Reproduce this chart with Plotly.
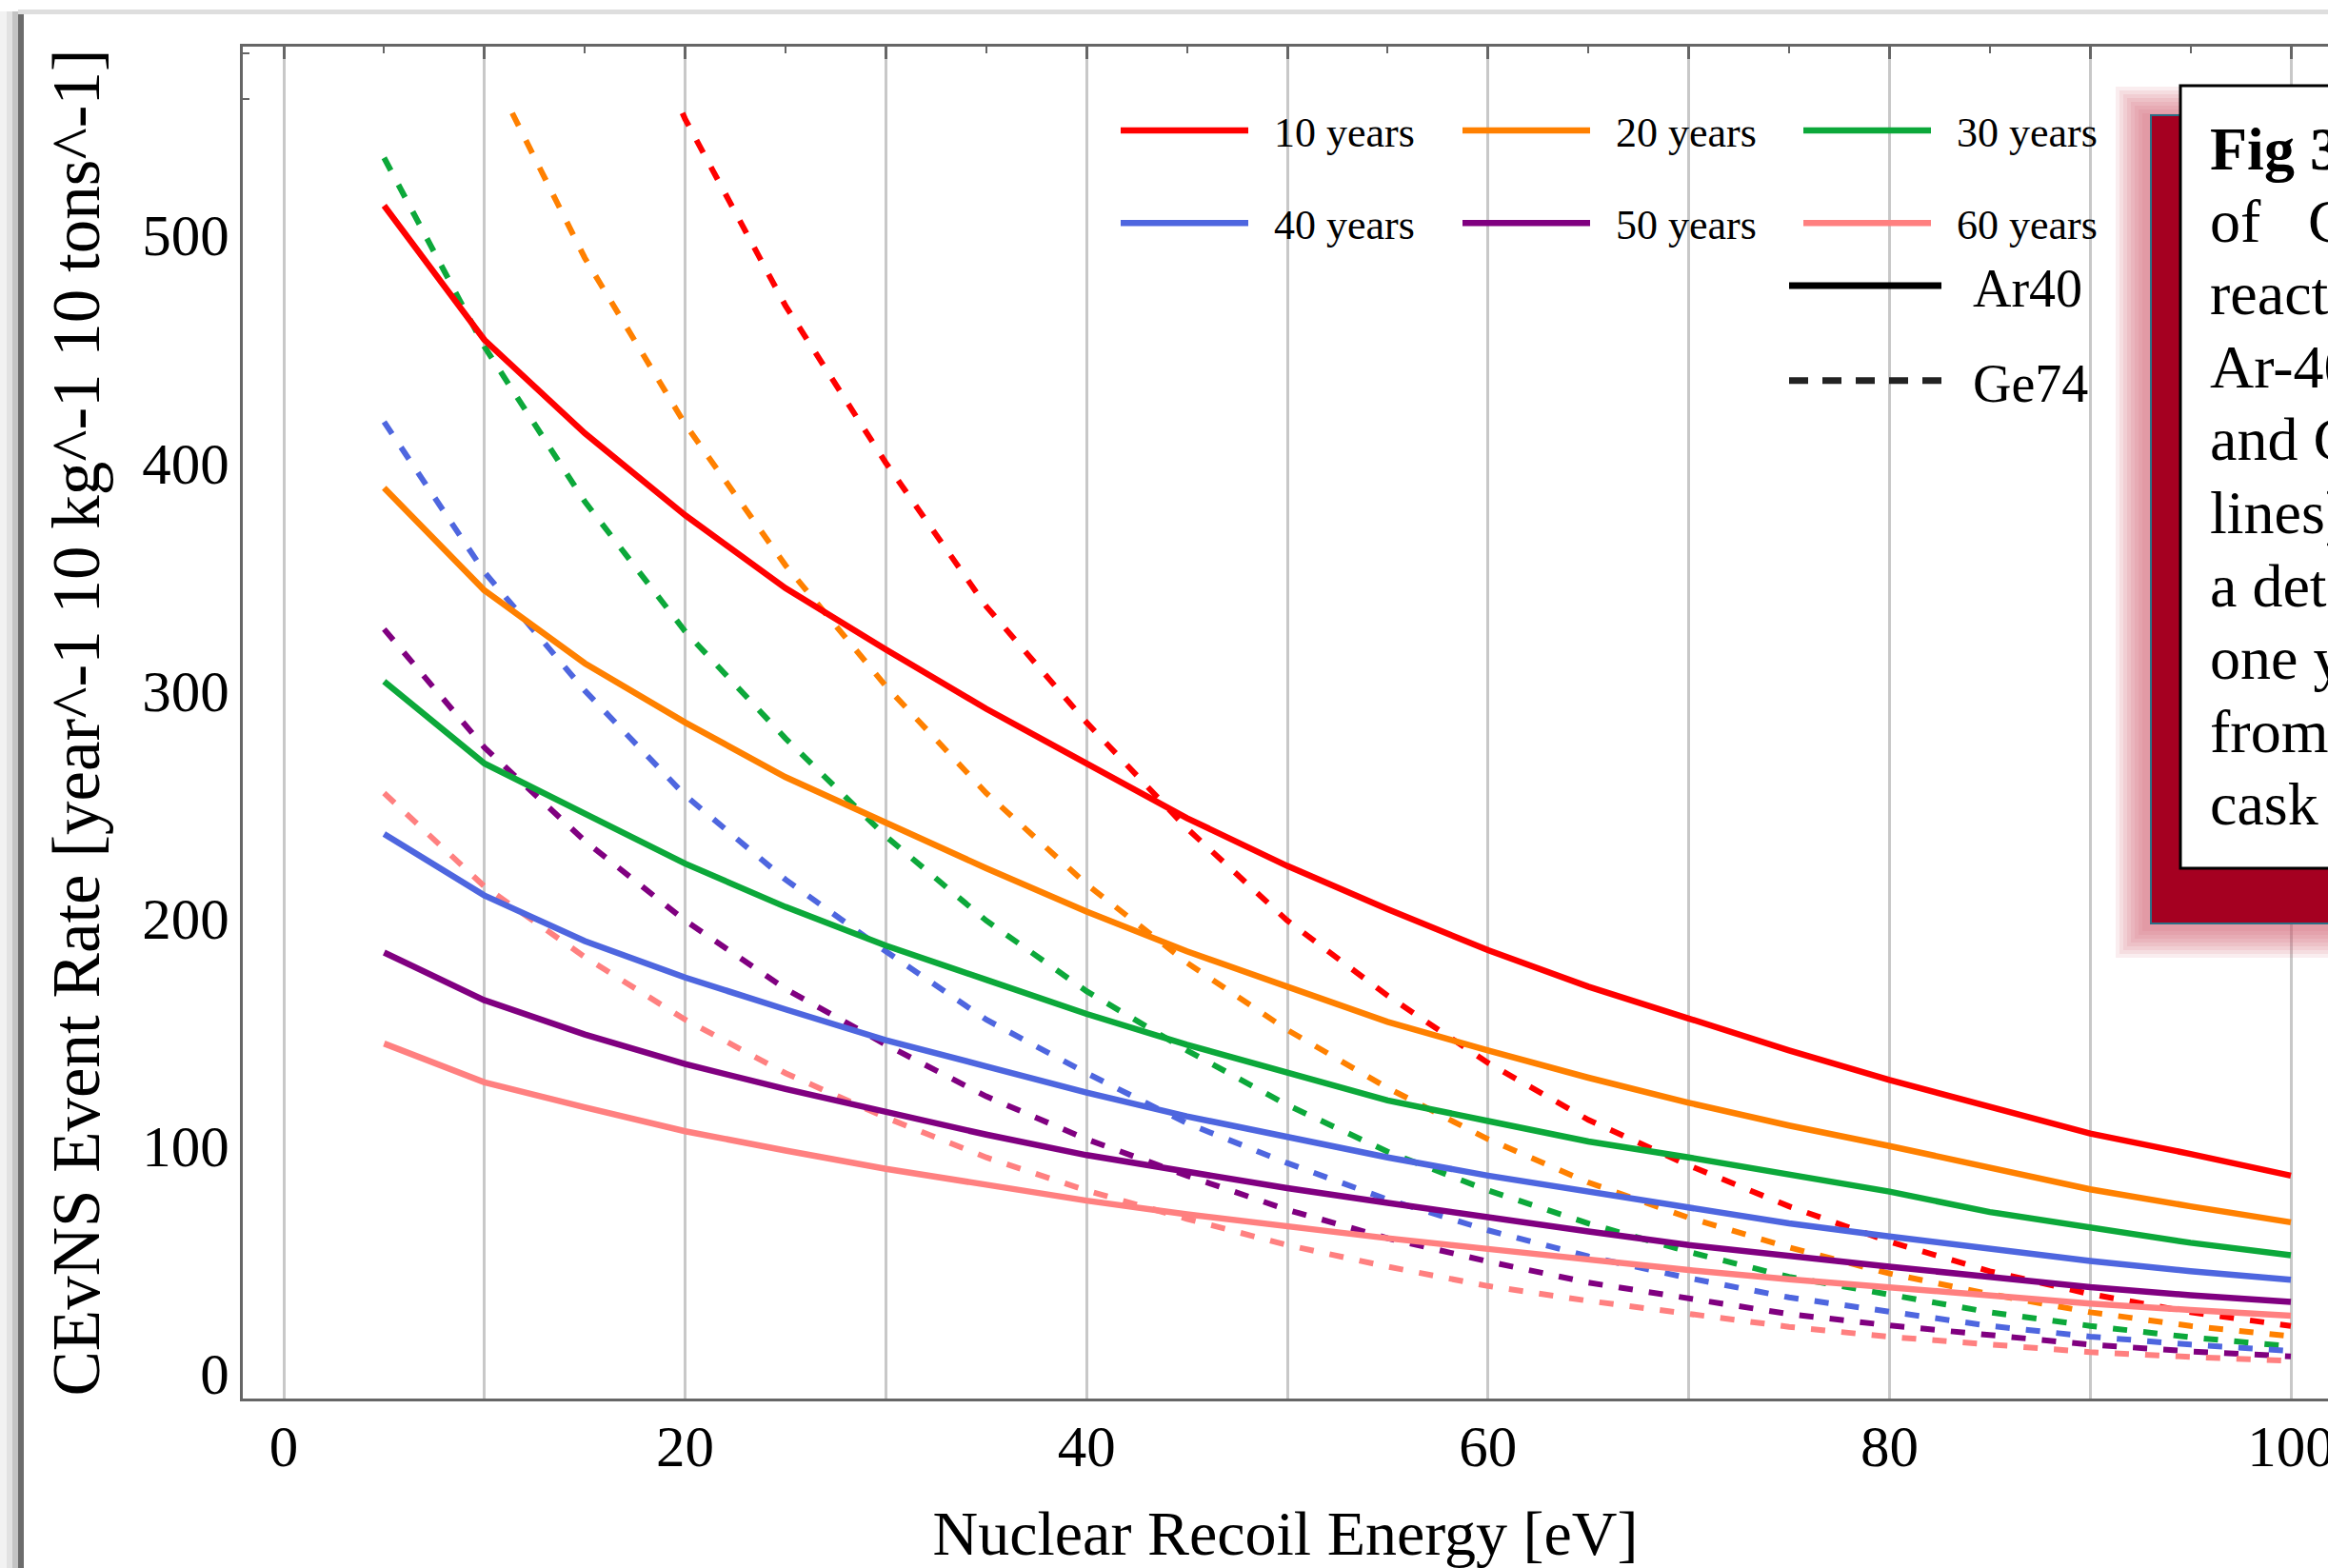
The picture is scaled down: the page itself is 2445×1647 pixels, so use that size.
import plotly.graph_objects as go

# ---------------- data ----------------
energy_ev = [5, 10, 15, 20, 25, 30, 35, 40, 45, 50, 55, 60, 65, 70, 75, 80, 85, 90, 95, 100]

year_labels = ["10 years", "20 years", "30 years", "40 years", "50 years", "60 years"]
year_colors = ["#ff0000", "#ff8000", "#0ca83a", "#4e66df", "#800080", "#ff8080"]

# Ar40 (solid lines)
ar40_10yr = [513, 454, 413, 377, 345, 318, 292, 268, 244, 223, 204, 186, 170, 156, 142, 129, 117, 105.5, 96.5, 87]
ar40_20yr = [389, 344, 312, 286, 262, 242, 222, 203, 185.5, 170, 154.5, 142, 130, 119, 109, 100, 90.5, 81, 73.5, 66.5]
ar40_30yr = [304, 268, 246, 224, 205, 188, 173, 158, 144.5, 132, 120, 111, 102, 95, 87.5, 80, 71, 64, 57.5, 52]
ar40_40yr = [237, 210, 190, 174, 160, 146.5, 135, 123.5, 113, 104, 95, 87, 80, 72.5, 66, 60.3, 55, 49.5, 45, 41.3]
ar40_50yr = [185, 164, 149, 136, 125, 115, 105, 96, 88.5, 81.5, 75, 68.5, 62.5, 56.5, 51.5, 47, 42.5, 38, 34.5, 31.5]
ar40_60yr = [145, 128, 117, 106.5, 98, 90, 83, 76, 70, 64.5, 59.5, 54.8, 50, 45.5, 41.5, 37.8, 34.3, 30.8, 28, 25.5]

# Ge74 (dashed lines)
ge74_10yr = [890, 762, 648, 551, 469, 400, 337, 286, 239.5, 199, 166, 136.5, 111.5, 91.5, 73.5, 58, 45, 35, 27, 21]
ge74_20yr = [675, 578, 490, 417, 355, 302, 255, 215, 180.5, 151, 125.5, 103, 84, 68.5, 55.5, 44, 35, 27, 21, 16.5]
ge74_30yr = [534, 451, 383, 326, 279, 236, 199, 168, 142, 118, 97.5, 80.5, 66, 53.5, 42.5, 34.5, 27, 21, 16, 12]
ge74_40yr = [418, 352, 300, 254, 217, 185.5, 155.5, 132, 110, 92.5, 76.5, 63, 51.5, 42, 33.5, 27, 21, 16.3, 12.8, 10]
ge74_50yr = [327, 275, 234, 199, 169, 144.5, 121.8, 103, 87, 72, 59.5, 49.3, 40, 33, 26.2, 21.2, 16.8, 12.8, 9.8, 7.6]
ge74_60yr = [255, 214, 183, 155.5, 132, 112.5, 95, 80.5, 68, 56.5, 47, 38.5, 32, 26, 20.6, 16.2, 12.6, 9.5, 7.4, 5.6]

x_tick_values = [0, 10, 20, 30, 40, 50, 60, 70, 80, 90, 100]
x_tick_text = ["0", "", "20", "", "40", "", "60", "", "80", "", "100"]

caption_lines = ["<b>Fig 3:</b>", "of", "reactor", "Ar-40 (solid", "and Ge-74 (dashed",
                 "lines) for", "a detector", "one year", "from a", "cask"]

# ---------------- layout geometry ----------------
W, H = 2445, 1647
ML, MR, MT, MB = 255, 0, 49, 178
PW = W - ML - MR
PH = H - MT - MB
X_RANGE = [-2.04, 101.85]
Y_RANGE = [-10.9, 582.8]
CLIP_TOP = 555.0          # data are clipped here (plot range), frame extends above
clip_domain = (CLIP_TOP - Y_RANGE[0]) / (Y_RANGE[1] - Y_RANGE[0])

SERIF = "Liberation Serif"
AXC = "#666666"


def px(X):
    return (X - ML) / PW


def py(Y):
    return (H - MB - Y) / PH


fig = go.Figure()

ar_series = [ar40_10yr, ar40_20yr, ar40_30yr, ar40_40yr, ar40_50yr, ar40_60yr]
ge_series = [ge74_10yr, ge74_20yr, ge74_30yr, ge74_40yr, ge74_50yr, ge74_60yr]
legend_cols = ["legend", "legend2", "legend3"]

# isotope legend entries (on the main axes so the frame subplot exists)
fig.add_trace(go.Scatter(x=[None], y=[None], mode="lines",
                         line=dict(color="black", width=7),
                         name="\u00a0\u00a0Ar40", legend="legend4", legendgroup="ar40"))
fig.add_trace(go.Scatter(x=[None], y=[None], mode="lines",
                         line=dict(color="#222222", width=7, dash="20px,15px"),
                         name="\u00a0\u00a0Ge74", legend="legend4", legendgroup="ge74"))

for i, (lab, col, ar, ge) in enumerate(zip(year_labels, year_colors, ar_series, ge_series)):
    fig.add_trace(go.Scatter(
        x=energy_ev, y=ge, mode="lines", yaxis="y2",
        line=dict(color=col, width=6, dash="15px,17px"),
        showlegend=False, hoverinfo="skip"))
for i, (lab, col, ar, ge) in enumerate(zip(year_labels, year_colors, ar_series, ge_series)):
    fig.add_trace(go.Scatter(
        x=energy_ev, y=ar, mode="lines", yaxis="y2",
        line=dict(color=col, width=6.5),
        name="\u00a0\u00a0" + lab, legend=legend_cols[i % 3], legendgroup=lab,
        showlegend=True))

legend_common = dict(xanchor="left", yanchor="top", bgcolor="rgba(0,0,0,0)",
                     borderwidth=0, orientation="v")
leg_years = dict(font=dict(family=SERIF, size=44, color="black"), itemwidth=134,
                 tracegroupgap=37, **legend_common)

shapes = []
# white areas behind the legends (cover grid lines)
shapes.append(dict(type="rect", xref="paper", yref="paper", layer="between",
                   x0=px(1166), x1=px(2235), y0=py(277), y1=py(107),
                   fillcolor="white", line=dict(width=0)))
shapes.append(dict(type="rect", xref="paper", yref="paper", layer="between",
                   x0=px(1800), x1=px(2235), y0=py(457), y1=py(277),
                   fillcolor="white", line=dict(width=0)))

# glow around the caption box
n_glow = 8
for k in range(n_glow):
    pad = 4 * (n_glow - k)
    shapes.append(dict(type="rect", xref="paper", yref="paper", layer="above",
                       x0=px(2258 - pad - 4), x1=px(2470), y0=py(970 + pad + 4), y1=py(121 - pad + 2),
                       fillcolor="rgba(205,95,108,0.11)", line=dict(width=0)))
# red caption frame
shapes.append(dict(type="rect", xref="paper", yref="paper", layer="above",
                   x0=px(2259), x1=px(2470), y0=py(970), y1=py(121),
                   fillcolor="#a50021", line=dict(color="#2b6f86", width=2)))
# white caption box
shapes.append(dict(type="rect", xref="paper", yref="paper", layer="above",
                   x0=px(2290), x1=px(2470), y0=py(912), y1=py(90),
                   fillcolor="white", line=dict(color="black", width=3)))

# page border decoration on the left / top
shapes.append(dict(type="rect", xref="paper", yref="paper", layer="above",
                   x0=px(0), x1=px(7), y0=py(H), y1=py(12), fillcolor="#f2f2f2", line=dict(width=0)))
shapes.append(dict(type="rect", xref="paper", yref="paper", layer="above",
                   x0=px(7), x1=px(13), y0=py(H), y1=py(12), fillcolor="#e2e2e2", line=dict(width=0)))
shapes.append(dict(type="rect", xref="paper", yref="paper", layer="above",
                   x0=px(13), x1=px(19), y0=py(H), y1=py(12), fillcolor="#c4c4c4", line=dict(width=0)))
shapes.append(dict(type="rect", xref="paper", yref="paper", layer="above",
                   x0=px(19), x1=px(25), y0=py(H), y1=py(14), fillcolor="#6c6c6c", line=dict(width=0)))
shapes.append(dict(type="rect", xref="paper", yref="paper", layer="above",
                   x0=px(19), x1=px(W), y0=py(15), y1=py(10), fillcolor="#dedede", line=dict(width=0)))

annotations = []
line_y0, line_dy = 156, 76.5
for k, txt in enumerate(caption_lines):
    annotations.append(dict(xref="paper", yref="paper", x=px(2319), y=py(line_y0 + k * line_dy),
                            xanchor="left", yanchor="middle", showarrow=False, align="left",
                            text=txt, font=dict(family=SERIF, size=64, color="black")))
annotations.append(dict(xref="paper", yref="paper", x=px(2422), y=py(line_y0 + line_dy),
                        xanchor="left", yanchor="middle", showarrow=False,
                        text="CEvNS", font=dict(family=SERIF, size=64, color="black")))

tickfont = dict(family=SERIF, size=61, color="black")

fig.update_layout(
    template="none",
    width=W, height=H,
    margin=dict(l=ML, r=MR, t=MT, b=MB, pad=0),
    paper_bgcolor="white", plot_bgcolor="white",
    font=dict(family=SERIF, color="black"),
    xaxis=dict(
        range=X_RANGE, domain=[0, 1], anchor="y", automargin=False,
        showline=True, linecolor=AXC, linewidth=3, mirror="ticks",
        ticks="inside", ticklen=13, tickwidth=2.5, tickcolor=AXC,
        tickmode="array", tickvals=x_tick_values, ticktext=x_tick_text,
        ticklabelstandoff=-5, ticklabeloverflow="allow",
        showgrid=True, gridcolor="#c8c8c8", gridwidth=2.5, zeroline=False,
        minor=dict(dtick=5, tick0=0, ticks="inside", ticklen=7, tickwidth=2,
                   tickcolor=AXC, showgrid=False),
        tickfont=tickfont,
        title=dict(text="Nuclear Recoil Energy [eV]",
                   font=dict(family=SERIF, size=66, color="black"), standoff=76),
    ),
    yaxis=dict(
        range=Y_RANGE, domain=[0, 1], anchor="x", automargin=False,
        showline=True, linecolor=AXC, linewidth=3, mirror=False,
        ticks="inside", ticklen=13, tickwidth=2.5, tickcolor=AXC,
        tick0=0, dtick=100, ticklabelstandoff=-1, ticklabeloverflow="allow",
        showgrid=True, gridcolor="#c8c8c8", gridwidth=2.5, zeroline=False,
        minor=dict(dtick=20, tick0=0, ticks="inside", ticklen=7, tickwidth=2,
                   tickcolor=AXC, showgrid=False),
        tickfont=tickfont,
        title=dict(text="CEvNS Event Rate [year^-1 10 kg^-1 10 tons^-1]",
                   font=dict(family=SERIF, size=71, color="black"), standoff=22),
    ),
    yaxis2=dict(range=[Y_RANGE[0], CLIP_TOP], domain=[0, clip_domain], anchor="x",
                visible=False, showgrid=False, zeroline=False),
    legend=dict(x=px(1172), y=py(102), **leg_years),
    legend2=dict(x=px(1531), y=py(102), **leg_years),
    legend3=dict(x=px(1889), y=py(102), **leg_years),
    legend4=dict(x=px(1874), y=py(257), font=dict(family=SERIF, size=56, color="black"),
                 itemwidth=160, tracegroupgap=24, **legend_common),
    shapes=shapes,
    annotations=annotations,
    showlegend=True,
)

fig.write_html("out.html")
